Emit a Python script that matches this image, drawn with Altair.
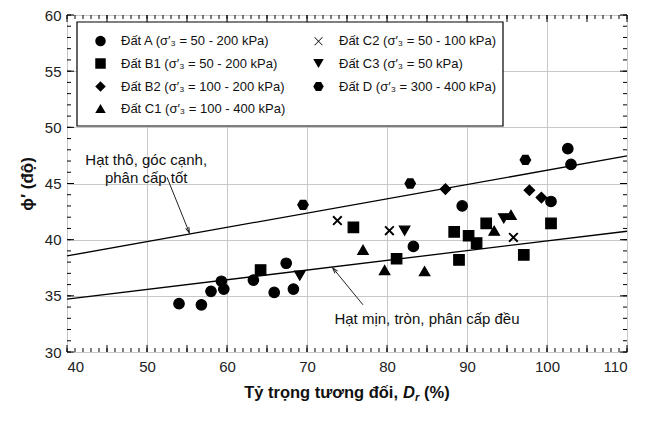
import math
import altair as alt
import pandas as pd

# ---------------- data ----------------
A_dr = [54.0, 56.8, 58.0, 59.3, 59.6, 63.3, 65.9, 67.4, 68.3, 83.3, 89.4, 100.5, 102.6, 103.0]
A_phi = [34.3, 34.2, 35.4, 36.3, 35.6, 36.4, 35.3, 37.9, 35.6, 39.4, 43.0, 43.4, 48.1, 46.7]

B1_dr = [64.2, 75.8, 81.2, 88.4, 89.0, 90.2, 91.2, 92.4, 97.1, 100.5]
B1_phi = [37.3, 41.1, 38.3, 40.7, 38.2, 40.35, 39.7, 41.45, 38.65, 41.45]

B2_dr = [87.3, 97.8, 99.3]
B2_phi = [44.5, 44.4, 43.75]

C1_dr = [77.0, 79.7, 84.7, 93.4, 95.5]
C1_phi = [39.1, 37.3, 37.2, 40.8, 42.2]

C2_dr = [73.8, 80.3, 95.8]
C2_phi = [41.7, 40.8, 40.2]

C3_dr = [69.1, 82.2, 94.6]
C3_phi = [36.8, 40.8, 41.9]

D_dr = [69.5, 82.9, 97.3]
D_phi = [43.1, 45.0, 47.1]

labels = {
    "A": "Đất A (σ′₃ = 50 - 200 kPa)",
    "B1": "Đất B1 (σ′₃ = 50 - 200 kPa)",
    "B2": "Đất B2 (σ′₃ = 100 - 200 kPa)",
    "C1": "Đất C1 (σ′₃ = 100 - 400 kPa)",
    "C2": "Đất C2 (σ′₃ = 50 - 100 kPa)",
    "C3": "Đất C3 (σ′₃ = 50 kPa)",
    "D": "Đất D (σ′₃ = 300 - 400 kPa)",
}

# trend lines (end points)
upper_dr = [40, 110]
upper_phi = [38.55, 47.45]
lower_dr = [40, 110]
lower_phi = [34.7, 40.75]

# arrows: start -> tip
arrow_up_dr = [52.5, 55.3]
arrow_up_phi = [45.55, 40.6]
arrow_lo_dr = [77.0, 73.2]
arrow_lo_phi = [34.2, 37.5]

notes_text = ["Hạt thô, góc cạnh,", "phân cấp tốt", "Hạt mịn, tròn, phân cấp đều"]
notes_dr = [49.9, 49.9, 85.0]
notes_phi = [47.05, 45.45, 32.95]

x_ticks = list(range(40, 111))
y_ticks = list(range(30, 61))
x_major = list(range(40, 111, 5))
y_major = list(range(30, 61, 5))

# ---------------- build tables ----------------
W, H = 560, 337
FONT = "Liberation Sans"

series = [("A", A_dr, A_phi), ("B1", B1_dr, B1_phi), ("B2", B2_dr, B2_phi),
          ("C1", C1_dr, C1_phi), ("C2", C2_dr, C2_phi), ("C3", C3_dr, C3_phi),
          ("D", D_dr, D_phi)]
rows = []
for key, xs_, ys_ in series:
    for xv, yv in zip(xs_, ys_):
        rows.append({"Dr": xv, "phi": yv, "soil": labels[key]})
pts = pd.DataFrame(rows)

hexagon = "M-1,0L-0.5,-0.866L0.5,-0.866L1,0L0.5,0.866L-0.5,0.866Z"

# thin filled "x" outline (plus polygon rotated by 45 degrees)
def x_path(L=1.05, w=0.07):
    plus = [(-w, -L), (w, -L), (w, -w), (L, -w), (L, w), (w, w), (w, L), (-w, L),
            (-w, w), (-L, w), (-L, -w), (-w, -w)]
    r = [((x - y) / math.sqrt(2), (x + y) / math.sqrt(2)) for x, y in plus]
    return "M" + "L".join(f"{a:.3f},{b:.3f}" for a, b in r) + "Z"

xcross = x_path()
order = ["A", "B1", "B2", "C1", "C2", "C3", "D"]
shape_of = {"A": "circle", "B1": "square", "B2": "diamond", "C1": "triangle-up",
            "C2": xcross, "C3": "triangle-down", "D": hexagon}

xs = alt.Scale(domain=[40, 110], nice=False)
ys = alt.Scale(domain=[30, 60], nice=False)

xax = alt.Axis(values=x_major, grid=True, gridColor="#c8c8c8", gridWidth=1, ticks=False,
               domain=False, labelFontSize=15, labelColor="#222", labelPadding=7,
               labelFont=FONT, title=None)
yax = alt.Axis(values=y_major, grid=True, gridColor="#c8c8c8", gridWidth=1, ticks=False,
               domain=False, labelFontSize=15, labelColor="#222", labelPadding=6,
               labelFont=FONT, title="ϕ′ (độ)", titleFontSize=17, titleFont=FONT,
               titleFontWeight="bold", titleColor="#111", titlePadding=8)

base = alt.Chart(pts)

# legend box
legend_box = alt.Chart(pd.DataFrame({"k": [0]})).mark_rect(
    fill="white", stroke="black", strokeWidth=1.2
).encode(x=alt.value(10), x2=alt.value(436), y=alt.value(7), y2=alt.value(111))

points = base.mark_point(filled=True, opacity=1, size=110, stroke="black",
                         strokeWidth=1.2, color="black").encode(
    x=alt.X("Dr:Q", scale=xs, axis=xax),
    y=alt.Y("phi:Q", scale=ys, axis=yax),
    shape=alt.Shape("soil:N",
                    scale=alt.Scale(domain=[labels[k] for k in order],
                                    range=[shape_of[k] for k in order]),
                    legend=alt.Legend(title=None, orient="none", legendX=27, legendY=19,
                                      columns=2, labelFontSize=13, labelFont=FONT,
                                      labelColor="#111", symbolSize=110, labelLimit=400,
                                      symbolFillColor="black", symbolStrokeColor="black",
                                      symbolStrokeWidth=1.2, labelOffset=14,
                                      rowPadding=6, columnPadding=24, padding=0,
                                      gridAlign="each")),
)

lines_df = pd.DataFrame({"Dr": upper_dr + lower_dr, "phi": upper_phi + lower_phi,
                         "g": ["u", "u", "l", "l"]})
trend = alt.Chart(lines_df).mark_line(color="black", strokeWidth=1.3).encode(
    x=alt.X("Dr:Q", scale=xs), y=alt.Y("phi:Q", scale=ys), detail="g:N")

arr_df = pd.DataFrame({"Dr": arrow_up_dr + arrow_lo_dr, "phi": arrow_up_phi + arrow_lo_phi,
                       "g": ["u", "u", "l", "l"]})
arrows = alt.Chart(arr_df).mark_line(color="#222", strokeWidth=1).encode(
    x=alt.X("Dr:Q", scale=xs), y=alt.Y("phi:Q", scale=ys), detail="g:N")

pxx, pxy = W / 70.0, H / 30.0
def head_angle(dr, ph):
    dx = (dr[1] - dr[0]) * pxx
    dy = -(ph[1] - ph[0]) * pxy
    return (math.degrees(math.atan2(dx, -dy)) + 360) % 360

heads_df = pd.DataFrame({"Dr": [arrow_up_dr[1], arrow_lo_dr[1]],
                         "phi": [arrow_up_phi[1], arrow_lo_phi[1]],
                         "ang": [head_angle(arrow_up_dr, arrow_up_phi),
                                 head_angle(arrow_lo_dr, arrow_lo_phi)]})
heads = alt.Chart(heads_df).mark_point(
    shape="M-0.45,1.5L0,0L0.45,1.5", filled=False, stroke="#222", strokeWidth=1,
    size=60, opacity=1).encode(
    x=alt.X("Dr:Q", scale=xs), y=alt.Y("phi:Q", scale=ys),
    angle=alt.Angle("ang:Q", scale=None))

notes_df = pd.DataFrame({"Dr": notes_dr, "phi": notes_phi, "t": notes_text})
notes = alt.Chart(notes_df).mark_text(fontSize=15, font=FONT, color="#111",
                                      align="center", baseline="middle").encode(
    x=alt.X("Dr:Q", scale=xs), y=alt.Y("phi:Q", scale=ys), text="t:N")

# inward ticks on all four sides
def tick_layers(vals, length, axis):
    df = pd.DataFrame({"v": vals})
    c = alt.Chart(df).mark_rule(color="black", strokeWidth=1)
    if axis == "x":
        bot = c.encode(x=alt.X("v:Q", scale=xs), y=alt.value(H), y2=alt.value(H - length))
        top = c.encode(x=alt.X("v:Q", scale=xs), y=alt.value(0), y2=alt.value(length))
    else:
        bot = c.encode(y=alt.Y("v:Q", scale=ys), x=alt.value(0), x2=alt.value(length))
        top = c.encode(y=alt.Y("v:Q", scale=ys), x=alt.value(W), x2=alt.value(W - length))
    return [bot, top]

ticks = (tick_layers(x_ticks, 4, "x") + tick_layers(x_major, 7, "x") +
         tick_layers(y_ticks, 4, "y") + tick_layers(y_major, 7, "y"))

# x-axis title composed so D can be italic with subscript r
ty = H + 41
xt1 = alt.Chart(pd.DataFrame({"t": ["Tỷ trọng tương đối,"]})).mark_text(
    fontSize=16.5, font=FONT, fontWeight="bold", align="right", baseline="middle",
    color="#111").encode(text="t:N", x=alt.value(331), y=alt.value(ty))
xt2 = alt.Chart(pd.DataFrame({"t": ["D"]})).mark_text(
    fontSize=16.5, font=FONT, fontWeight="bold", fontStyle="italic", align="left",
    baseline="middle", color="#111").encode(text="t:N", x=alt.value(336), y=alt.value(ty))
xt3 = alt.Chart(pd.DataFrame({"t": ["r"]})).mark_text(
    fontSize=11, font=FONT, fontWeight="bold", fontStyle="italic", align="left",
    baseline="middle", color="#111").encode(text="t:N", x=alt.value(348), y=alt.value(ty + 5))
xt4 = alt.Chart(pd.DataFrame({"t": ["(%)"]})).mark_text(
    fontSize=16.5, font=FONT, fontWeight="bold", align="left", baseline="middle",
    color="#111").encode(text="t:N", x=alt.value(357), y=alt.value(ty))

chart = alt.layer(
    legend_box, trend, arrows, heads, notes, points, *ticks, xt1, xt2, xt3, xt4
).properties(
    width=W, height=H,
    padding={"left": 59, "top": 7, "right": 20, "bottom": 50},
    autosize=alt.AutoSizeParams(type="none"),
).configure_view(stroke="black", strokeWidth=1.3).configure(font=FONT, background="white")

chart.save("out.html", embed_options={"renderer": "svg", "actions": False})
